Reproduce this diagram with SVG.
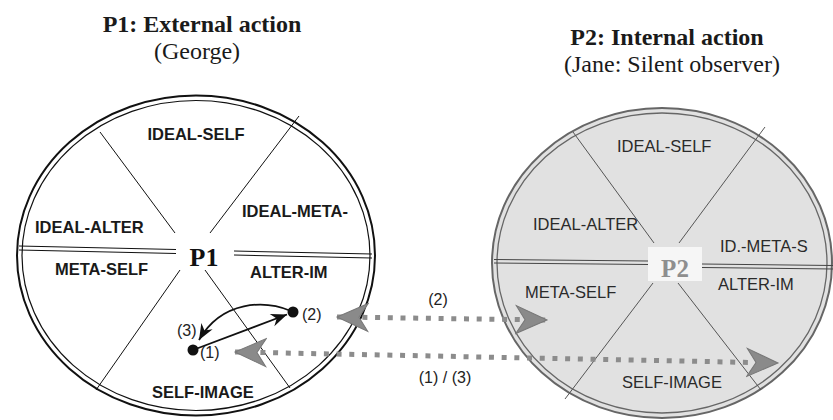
<svg xmlns="http://www.w3.org/2000/svg" width="833" height="420" viewBox="0 0 833 420">
  <style>
    .title { font-family: "Liberation Serif", "Times New Roman", serif; font-size: 24px; font-weight: bold; fill: #1a1a1a; text-anchor: middle; }
    .sub { font-family: "Liberation Serif", "Times New Roman", serif; font-size: 24px; fill: #1a1a1a; text-anchor: middle; }
    .lab1 { font-family: "Liberation Sans", Arial, sans-serif; font-size: 16.5px; font-weight: bold; fill: #1a1a1a; }
    .lab2 { font-family: "Liberation Sans", Arial, sans-serif; font-size: 16.5px; fill: #2a2a2a; }
    .num { font-family: "Liberation Sans", Arial, sans-serif; font-size: 16px; fill: #222; }
    .ring1 { fill: none; stroke: #111; }
    .ring2 { fill: none; stroke: #666; }
    .disc1 { fill: #fff; }
    .disc2 { fill: #e1e1e1; }
    .sep1 { stroke: #111; stroke-width: 1.1; }
    .sep2 { stroke: #444; stroke-width: 1; }
    .axis1 { stroke: #111; }
    .axis2 { stroke: #555; }
    .flow { fill: none; stroke: #8c8c8c; stroke-width: 5; stroke-dasharray: 5 7.7; }
    .act { fill: none; stroke: #111; stroke-width: 1.8; }
  </style>
  <defs>
    <marker id="bigHead" markerUnits="userSpaceOnUse" markerWidth="34" markerHeight="32" viewBox="-32 -16 34 32" refX="0" refY="0" orient="auto-start-reverse">
      <path d="M0,0 L-31,-14 L-22,0 L-31,14 Z" fill="#8a8a8a" stroke="#777" stroke-width="1"/>
    </marker>
    <marker id="blackHead" markerUnits="userSpaceOnUse" markerWidth="20" markerHeight="16" viewBox="-18 -8 20 16" refX="0" refY="0" orient="auto">
      <path d="M0,0 L-16,-6.5 L-11,0 L-16,6.5 Z" fill="#111"/>
    </marker>
  </defs>

  <!-- headings -->
  <g id="heading-p1">
    <text class="title" x="202" y="32">P1: External action</text>
    <text class="sub" x="197" y="59">(George)</text>
  </g>
  <g id="heading-p2">
    <text class="title" x="667" y="45">P2: Internal action</text>
    <text class="sub" x="672" y="72">(Jane: Silent observer)</text>
  </g>

  <!-- P1: external action -->
  <g id="p1">
    <ellipse class="disc1" cx="196" cy="255.5" rx="179" ry="160"/>
    <ellipse class="ring1" cx="196" cy="255.5" rx="179" ry="160" stroke-width="2"/>
    <ellipse class="ring1" cx="196" cy="255.5" rx="174" ry="155" stroke-width="1.2"/>
    <line class="sep1" x1="19" y1="246" x2="176" y2="249.5" stroke-width="2"/>
    <line class="sep1" x1="19" y1="250" x2="176" y2="253.5"/>
    <line class="sep1" x1="234" y1="251" x2="372" y2="254" stroke-width="2"/>
    <line class="sep1" x1="234" y1="255" x2="372" y2="258"/>
    <line class="axis1" x1="100" y1="132" x2="175" y2="233"/>
    <line class="axis1" x1="299" y1="116" x2="210" y2="233"/>
    <line class="axis1" x1="180" y1="270" x2="96" y2="390"/>
    <line class="axis1" x1="205" y1="270" x2="290" y2="388"/>
    <text x="204" y="266" font-family="'Liberation Serif', 'Times New Roman', serif" font-size="26" font-weight="bold" fill="#111" text-anchor="middle">P1</text>
    <text class="lab1" x="196" y="140" text-anchor="middle">IDEAL-SELF</text>
    <text class="lab1" x="35" y="233">IDEAL-ALTER</text>
    <text class="lab1" x="242" y="217">IDEAL-META-</text>
    <text class="lab1" x="55" y="275">META-SELF</text>
    <text class="lab1" x="250" y="278">ALTER-IM</text>
    <text class="lab1" x="152" y="398">SELF-IMAGE</text>
  </g>

  <!-- P2: internal action -->
  <g id="p2">
    <ellipse class="disc2" cx="662" cy="263" rx="170" ry="155"/>
    <ellipse class="ring2" cx="662" cy="263" rx="170" ry="155" stroke-width="2"/>
    <ellipse class="ring2" cx="662" cy="263" rx="165" ry="150" stroke-width="1.3"/>
    <line class="sep2" x1="494" y1="259.5" x2="648" y2="261" stroke-width="1.6"/>
    <line class="sep2" x1="494" y1="263" x2="648" y2="264.5"/>
    <line class="sep2" x1="702" y1="264" x2="833" y2="265.5" stroke-width="1.6"/>
    <line class="sep2" x1="702" y1="267.5" x2="833" y2="269"/>
    <line class="axis2" x1="573" y1="132" x2="654" y2="243"/>
    <line class="axis2" x1="765" y1="127" x2="679" y2="243"/>
    <line class="axis2" x1="653" y1="283" x2="565" y2="399"/>
    <line class="axis2" x1="678" y1="283" x2="761" y2="390"/>
    <rect x="648" y="247" width="54" height="34" fill="#f6f6f6"/>
    <text x="675" y="277" font-family="'Liberation Serif', 'Times New Roman', serif" font-size="25" font-weight="bold" fill="#8e8e8e" text-anchor="middle">P2</text>
    <text class="lab2" x="617" y="152">IDEAL-SELF</text>
    <text class="lab2" x="533" y="230">IDEAL-ALTER</text>
    <text class="lab2" x="720" y="252">ID.-META-S</text>
    <text class="lab2" x="525" y="298">META-SELF</text>
    <text class="lab2" x="718" y="290">ALTER-IM</text>
    <text class="lab2" x="622" y="388">SELF-IMAGE</text>
  </g>

  <!-- connectors -->
  <g id="connectors">
    <!-- internal sequence in P1 -->
    <line class="act" x1="193" y1="350" x2="287" y2="314.5" marker-end="url(#blackHead)"/>
    <path class="act" d="M291,311 C265,300 222,300 199,340" marker-end="url(#blackHead)"/>
    <circle cx="193" cy="350" r="5.5" fill="#111"/>
    <circle cx="293" cy="312" r="5.5" fill="#111"/>
    <text class="num" x="177" y="336">(3)</text>
    <text class="num" x="200" y="358">(1)</text>
    <text class="num" x="302" y="320">(2)</text>
    <!-- observation links between P1 and P2 -->
    <path class="flow" d="M337,317 L547,320" marker-start="url(#bigHead)" marker-end="url(#bigHead)"/>
    <path class="flow" d="M235,352 L778,363" marker-start="url(#bigHead)" marker-end="url(#bigHead)"/>
    <text class="num" x="438" y="305" text-anchor="middle">(2)</text>
    <text class="num" x="445" y="383" text-anchor="middle">(1) / (3)</text>
  </g>
</svg>
